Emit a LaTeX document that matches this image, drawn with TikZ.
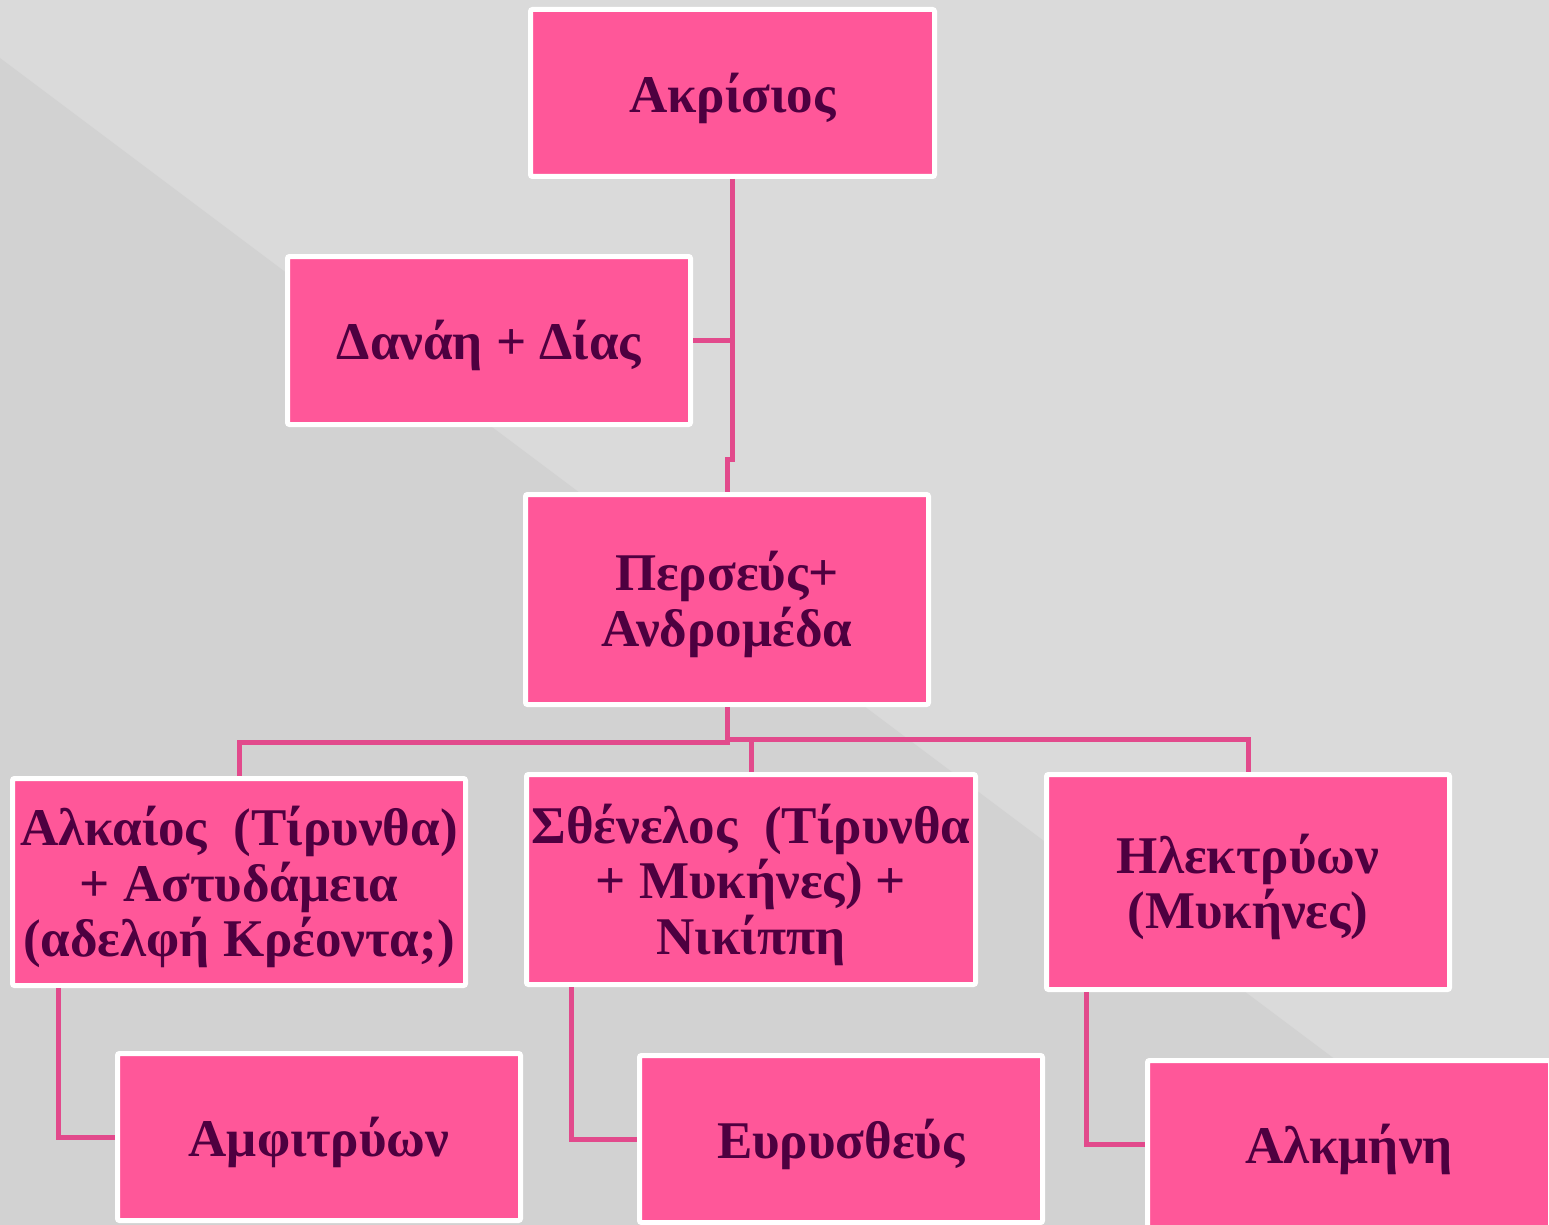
\documentclass[tikz,border=0pt]{standalone}
\usepackage{fontspec}
\setmainfont{Liberation Serif}
\begin{document}
\begin{tikzpicture}[x=1pt,y=-1pt,
  box/.style={rectangle, draw=white, fill=boxpink, line width=5pt, rounded corners=2pt,
    inner sep=0pt},
  txt/.style={inner sep=0pt, align=center, text=txtpurple, yshift=-5pt,
    font=\fontsize{53}{55.5}\selectfont\bfseries},
  conn/.style={draw=linepink, line width=5pt}]
\definecolor{boxpink}{HTML}{FF5799}
\definecolor{txtpurple}{HTML}{4E0040}
\definecolor{linepink}{HTML}{E24A8C}
\definecolor{bglight}{HTML}{DADADA}
\definecolor{bgdark}{HTML}{D2D2D2}
\useasboundingbox (0,0) rectangle (1549,1225);
\clip (0,0) rectangle (1549,1225);
\fill[bglight] (0,0) rectangle (1549,1225);
\fill[bgdark] (0,58) -- (1549,1219.75) -- (1549,1225) -- (0,1225) -- cycle;

\node[box, minimum width=404pt, minimum height=167pt, label={[txt]center:Ακρίσιος}] (akr) at (732.5,93) {};
\node[box, minimum width=403pt, minimum height=168pt, label={[txt]center:Δανάη + Δίας}] (dan) at (489,340.5) {};
\node[box, minimum width=403pt, minimum height=210pt, label={[txt]center:{Περσεύς+\\Ανδρομέδα}}] (per) at (727,599.5) {};
\node[box, minimum width=453pt, minimum height=207pt, label={[txt]center:{Αλκαίος~ (Τίρυνθα)\\+ Αστυδάμεια\\(αδελφή Κρέοντα;)}}] (alk) at (239,882) {};
\node[box, minimum width=449pt, minimum height=210pt, label={[txt]center:{Σθένελος~ (Τίρυνθα\\+ Μυκήνες) +\\Νικίππη}}] (sth) at (751,879.5) {};
\node[box, minimum width=403pt, minimum height=215pt, label={[txt]center:{Ηλεκτρύων\\(Μυκήνες)}}] (ilk) at (1248,882) {};
\node[box, minimum width=403pt, minimum height=167pt, label={[txt]center:Αμφιτρύων}] (amf) at (319,1137) {};
\node[box, minimum width=403pt, minimum height=167pt, label={[txt]center:Ευρυσθεύς}] (eur) at (841,1139) {};
\node[box, minimum width=403pt, minimum height=167pt, label={[txt]center:Αλκμήνη}] (alm) at (1349,1144) {};

\coordinate (jog) at (732.5,459);
\coordinate (lbar) at (727,742);
\coordinate (rbar) at (727,739);
\draw[conn] (akr.south) -- (jog) -- (jog -| per.north) -- (per.north);
\draw[conn] (dan.east) -- (dan.east -| akr.south);
\draw[conn] (per.south) -- (lbar) -- (lbar -| alk.north) -- (alk.north);
\draw[conn] (per.south) -- (rbar) -- (rbar -| ilk.north) -- (ilk.north);
\draw[conn] (rbar -| sth.north) -- (sth.north);
\draw[conn] ([xshift=-181pt]alk.south) |- (amf.west);
\draw[conn] ([xshift=-180pt]sth.south) |- (eur.west);
\draw[conn] ([xshift=-161.5pt]ilk.south) |- (alm.west);
\end{tikzpicture}
\end{document}
